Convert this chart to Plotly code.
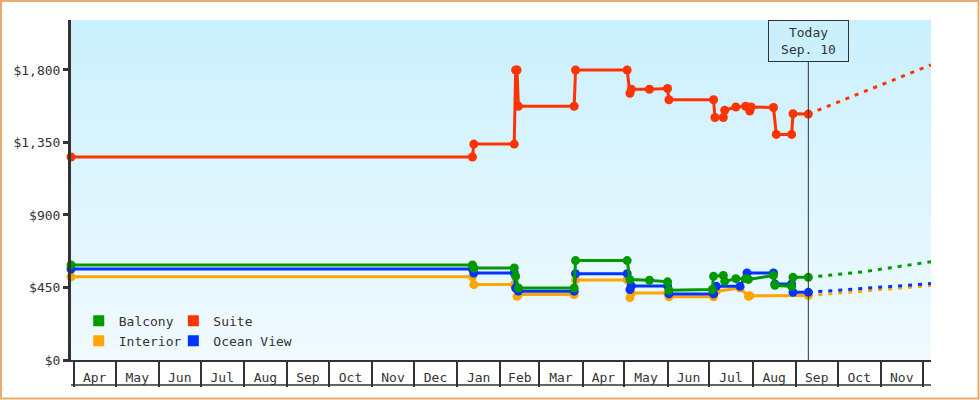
import plotly.graph_objects as go
import pandas as pd

# observed prices (date, price) per cabin type
suite_dates = ['2014-03-30', '2015-01-12', '2015-01-13', '2015-02-11', '2015-02-12', '2015-02-13',
               '2015-02-14', '2015-03-26', '2015-03-27', '2015-05-03', '2015-05-05', '2015-05-06',
               '2015-05-19', '2015-06-01', '2015-06-02', '2015-07-04', '2015-07-05', '2015-07-11',
               '2015-07-12', '2015-07-20', '2015-07-27', '2015-07-30', '2015-07-31', '2015-08-16',
               '2015-08-18', '2015-08-29', '2015-08-30', '2015-09-10']
suite_prices = [1260, 1260, 1340, 1340, 1800, 1800,
                1575, 1575, 1800, 1800, 1655, 1680,
                1680, 1685, 1615, 1615, 1505, 1505,
                1550, 1570, 1575, 1545, 1570, 1567,
                1400, 1400, 1528, 1526]

balcony_dates = ['2014-03-30', '2015-01-12', '2015-01-13', '2015-02-11', '2015-02-12', '2015-02-14',
                 '2015-03-26', '2015-03-27', '2015-05-03', '2015-05-05', '2015-05-19', '2015-06-01',
                 '2015-06-02', '2015-07-03', '2015-07-04', '2015-07-11', '2015-07-12', '2015-07-20',
                 '2015-07-27', '2015-07-29', '2015-08-16', '2015-08-17', '2015-08-29', '2015-08-30',
                 '2015-09-10']
balcony_prices = [590, 590, 571, 571, 520, 447,
                  447, 617, 617, 499, 495, 485,
                  433, 437, 519, 525, 488, 505,
                  505, 500, 525, 464, 457, 513,
                  513]

ocean_dates = ['2014-03-30', '2015-01-12', '2015-01-13', '2015-02-11', '2015-02-12', '2015-02-14',
               '2015-03-26', '2015-03-27', '2015-05-03', '2015-05-05', '2015-05-06', '2015-06-01',
               '2015-06-02', '2015-07-04', '2015-07-06', '2015-07-23', '2015-07-28', '2015-08-16',
               '2015-08-17', '2015-08-29', '2015-08-30', '2015-09-10']
ocean_prices = [565, 565, 540, 540, 447, 427,
                427, 536, 536, 437, 460, 460,
                410, 410, 457, 457, 540, 540,
                472, 472, 420, 420]

interior_dates = ['2014-03-30', '2015-01-12', '2015-01-13', '2015-02-11', '2015-02-13', '2015-02-14',
                  '2015-03-26', '2015-03-27', '2015-05-03', '2015-05-05', '2015-05-06', '2015-06-01',
                  '2015-06-02', '2015-07-04', '2015-07-06', '2015-07-23', '2015-07-29', '2015-07-30',
                  '2015-09-10']
interior_prices = [516, 516, 468, 468, 395, 406,
                   406, 497, 497, 387, 416, 416,
                   392, 392, 427, 447, 395, 398,
                   400]

# projected prices after today
forecast_dates = ['2015-09-10', '2015-10-20', '2015-12-07']
suite_forecast = [1526, 1665, 1832]
balcony_forecast = [513, 548, 610]
ocean_forecast = [420, 445, 474]
interior_forecast = [400, 428, 462]

today = '2015-09-10'
today_label = 'Today<br>Sep. 10'

month_labels = ['Apr', 'May', 'Jun', 'Jul', 'Aug', 'Sep', 'Oct', 'Nov', 'Dec', 'Jan',
                'Feb', 'Mar', 'Apr', 'May', 'Jun', 'Jul', 'Aug', 'Sep', 'Oct', 'Nov']
y_ticks = [0, 450, 900, 1350, 1800]
y_labels = ['$0', '$450', '$900', '$1,350', '$1,800']

colors = {'Balcony': '#009900', 'Suite': '#ff3300', 'Interior': '#ffa500', 'Ocean View': '#0033ff'}
font = 'DejaVu Sans Mono'

month_starts = pd.date_range('2014-04-01', '2015-12-01', freq='MS')
month_mids = [s + (e - s) / 2 for s, e in zip(month_starts[:-1], month_starts[1:])]

fig = go.Figure()

series = [
    ('Suite', suite_dates, suite_prices, suite_forecast),
    ('Interior', interior_dates, interior_prices, interior_forecast),
    ('Ocean View', ocean_dates, ocean_prices, ocean_forecast),
    ('Balcony', balcony_dates, balcony_prices, balcony_forecast),
]
for name, xs, ys, fc in series:
    fig.add_trace(go.Scatter(
        x=forecast_dates, y=fc, mode='lines', showlegend=False, hoverinfo='skip',
        line=dict(color=colors[name], width=3, dash='4px,6px')
    ))
    fig.add_trace(go.Scatter(
        x=xs, y=ys, mode='lines+markers', name=name, showlegend=False, cliponaxis=False,
        line=dict(color=colors[name], width=3),
        marker=dict(color=colors[name], size=9)
    ))

# legend swatches (two columns)
for name, leg in [('Balcony', 'legend'), ('Interior', 'legend'),
                  ('Suite', 'legend2'), ('Ocean View', 'legend2')]:
    fig.add_trace(go.Scatter(
        x=[None], y=[None], mode='markers', name=name, legend=leg,
        marker=dict(symbol='square', size=11, color=colors[name])
    ))

# plot-area gradient
top_c = (203, 240, 253)
bot_c = (240, 250, 255)
n = 34
shapes = []
for i in range(n):
    t = i / (n - 1)
    c = tuple(round(top_c[k] + (bot_c[k] - top_c[k]) * t) for k in range(3))
    shapes.append(dict(type='rect', xref='paper', yref='paper', x0=0, x1=1,
                       y0=1 - (i + 1) / n, y1=1 - i / n, layer='below',
                       line=dict(width=0), fillcolor='rgb(%d,%d,%d)' % c))

# today marker line
shapes.append(dict(type='line', xref='x', yref='paper', x0=today, x1=today, y0=0, y1=0.88,
                   line=dict(color='#333333', width=1)))
# bottom line of month cells
shapes.append(dict(type='line', xref='paper', yref='paper', x0=0, x1=1, y0=-25 / 340, y1=-25 / 340,
                   line=dict(color='#333333', width=1.5)))
# outer frame
shapes.append(dict(type='rect', xref='paper', yref='paper',
                   x0=(1 - 71) / 860, x1=(978.5 - 71) / 860,
                   y0=(360 - 398.5) / 340, y1=(360 - 1) / 340,
                   line=dict(color='#e9ab6d', width=2)))

fig.update_layout(
    width=980, height=400,
    margin=dict(l=71, r=49, t=20, b=40),
    paper_bgcolor='white', plot_bgcolor='#e4f6fe',
    font=dict(family=font, size=13, color='#333333'),
    shapes=shapes,
    annotations=[dict(
        x=today, y=1, xref='x', yref='paper', yanchor='top', text=today_label,
        showarrow=False, bordercolor='#333333', borderwidth=1, bgcolor='#cbf0fd',
        width=77, height=38, font=dict(family=font, size=13, color='#333333')
    )],
    legend=dict(x=0.009, y=0.012, xanchor='left', yanchor='bottom', bgcolor='rgba(0,0,0,0)',
                font=dict(family=font, size=13, color='#333333'), tracegroupgap=0),
    legend2=dict(x=0.119, y=0.012, xanchor='left', yanchor='bottom', bgcolor='rgba(0,0,0,0)',
                 font=dict(family=font, size=13, color='#333333'), tracegroupgap=0),
    hovermode=False,
)

fig.update_xaxes(
    type='date', range=['2014-03-30', '2015-12-07'],
    showline=True, linecolor='#333333', linewidth=2, showgrid=False, zeroline=False,
    tickmode='array', tickvals=month_mids, ticktext=month_labels, ticks='',
    ticklabelstandoff=4,
    minor=dict(tickmode='array', tickvals=list(month_starts), ticks='outside',
               ticklen=25, tickwidth=1.5, tickcolor='#333333', showgrid=False)
)
fig.update_yaxes(
    range=[0, 2110], tickmode='array', tickvals=y_ticks, ticktext=y_labels,
    showline=True, linecolor='#333333', linewidth=3,
    ticks='outside', ticklen=5, tickwidth=3, tickcolor='#333333',
    showgrid=False, zeroline=False
)

fig.write_html('out.html', config={'displayModeBar': False},
               post_script="document.body.style.margin='0';")
